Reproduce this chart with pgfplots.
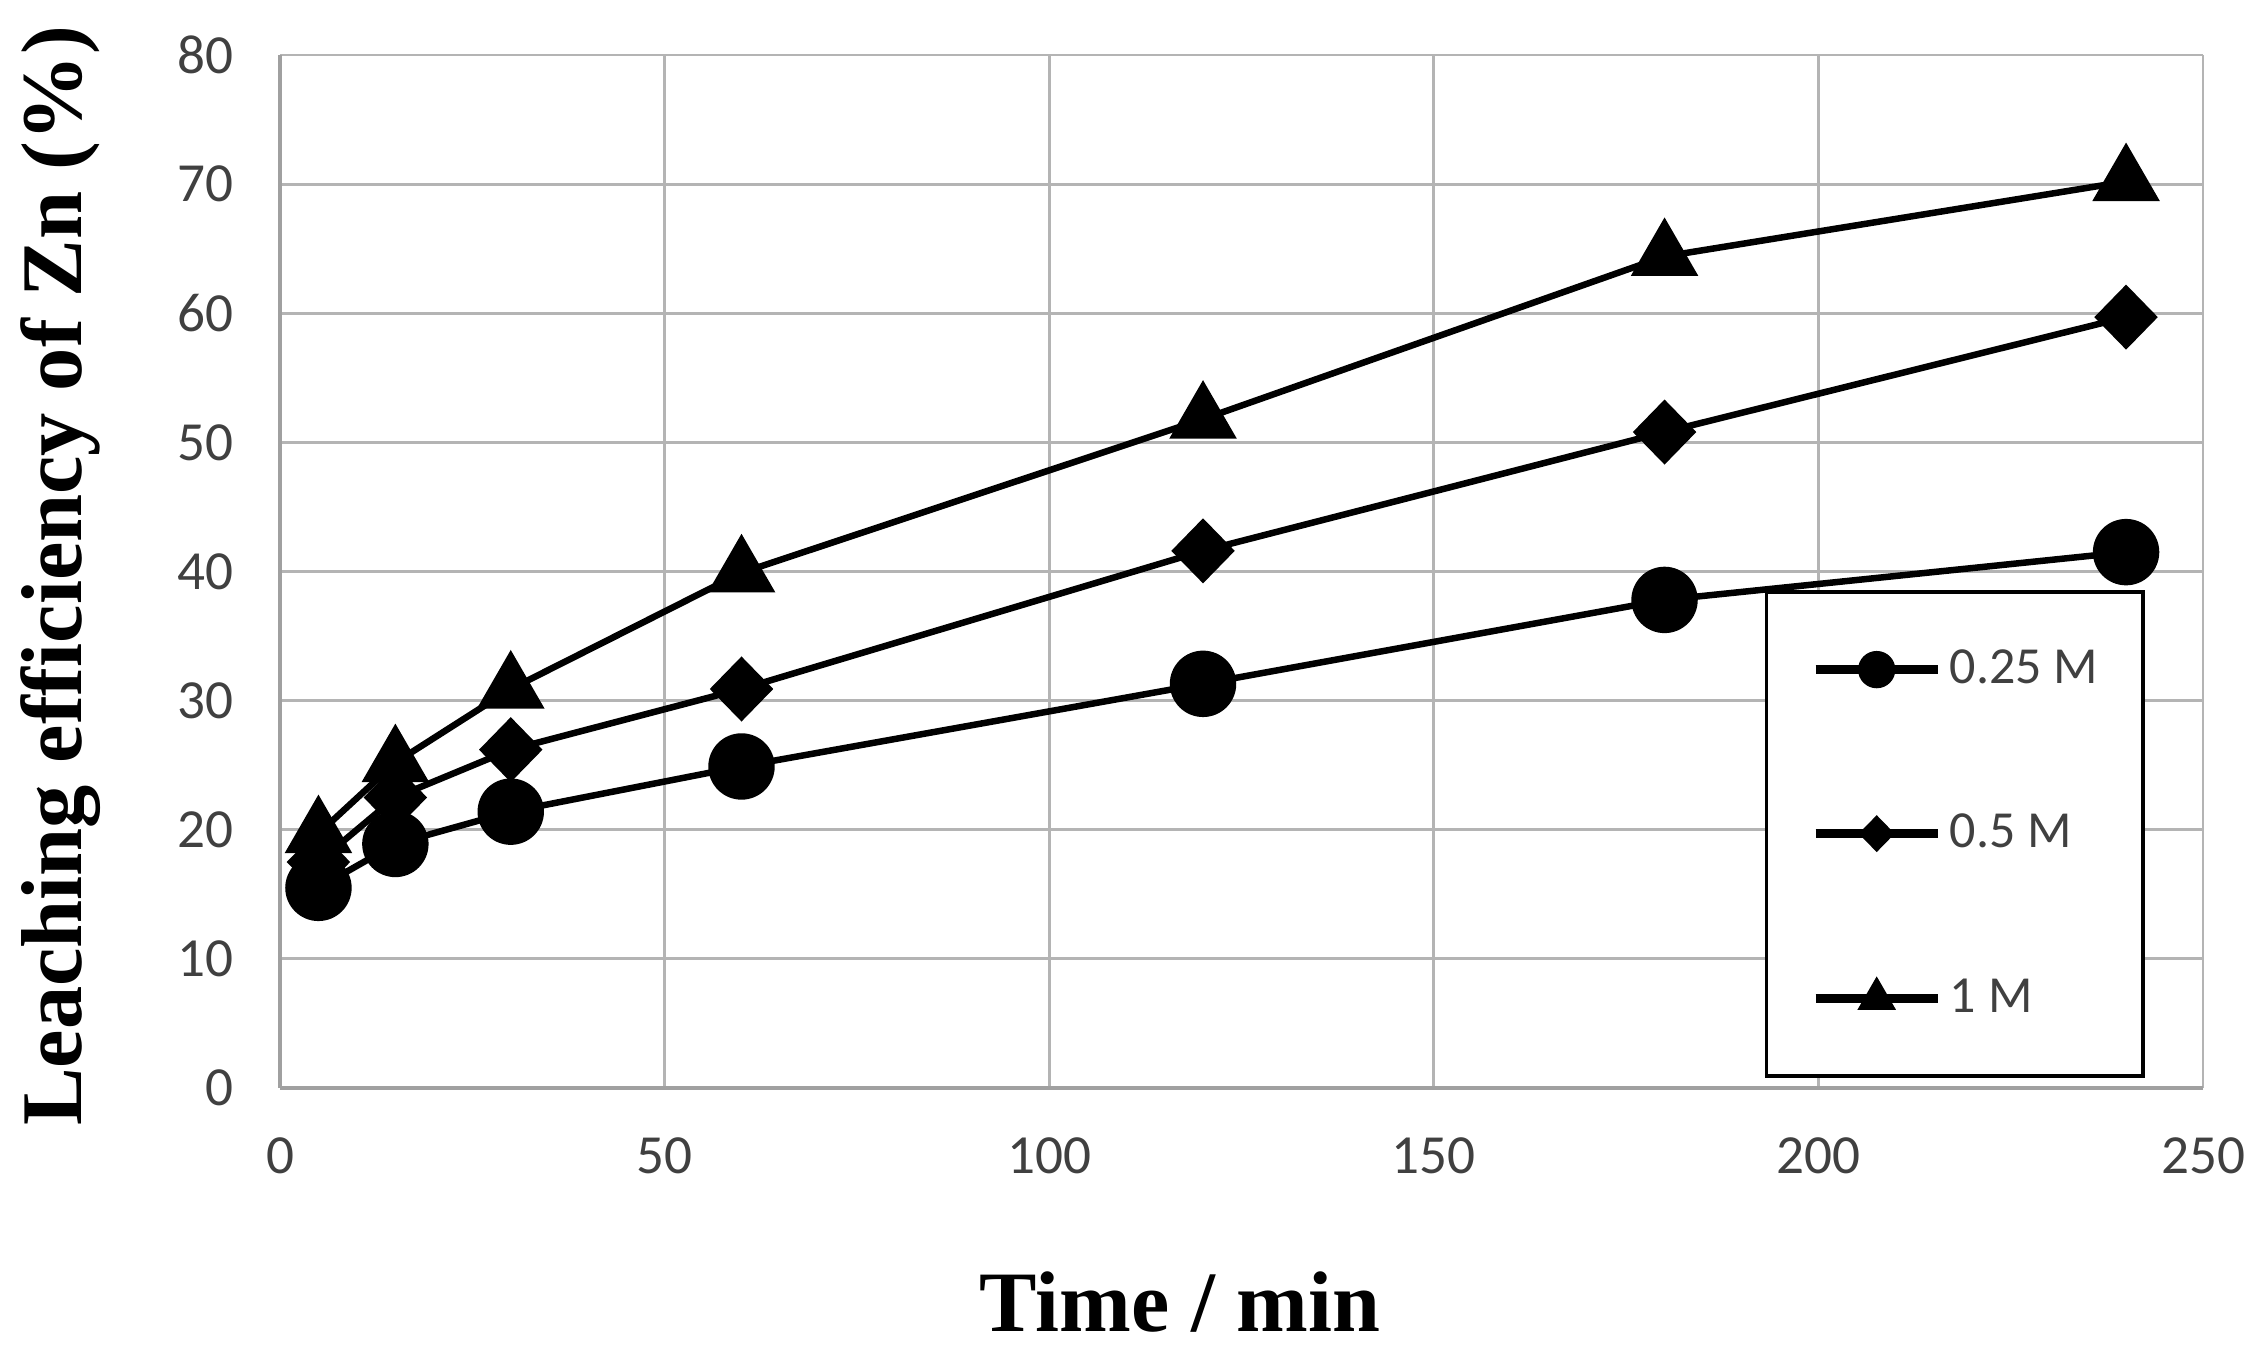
\documentclass[border=0pt]{standalone}
\usepackage{pgfplots}
\pgfplotsset{compat=1.18}
\usepackage{fontspec}
\setmainfont{Carlito}
\newfontfamily\titlefont{Liberation Serif}
\definecolor{tickgray}{HTML}{404040}
\definecolor{gridgray}{HTML}{B4B4B4}
\definecolor{axisgray}{HTML}{A0A0A0}
\begin{document}
\begin{tikzpicture}
\path[use as bounding box] (-2.80cm,-2.75cm) rectangle (19.73cm,10.88cm);
\begin{axis}[
  scale only axis,
  width=19.23cm, height=10.33cm,
  xmin=0, xmax=250, ymin=0, ymax=80,
  xtick={0,50,...,250}, ytick={0,10,...,80},
  axis lines=left,
  axis line style={-, draw=axisgray, line width=1.3pt},
  major tick length=0pt,
  grid=major,
  major grid style={draw=gridgray, line width=0.8pt},
  /pgf/number format/assume math mode=true,
  tick label style={font=\fontsize{15.7}{18}\selectfont, text=tickgray},
  yticklabel style={anchor=east, inner sep=0pt, xshift=-0.46cm},
  xticklabel style={anchor=north, inner sep=0pt, yshift=-0.49cm},
  xlabel={Time / min},
  ylabel={Leaching efficiency of Zn (\%)},
  xlabel style={font=\titlefont\bfseries\fontsize{24.5}{28}\selectfont, at={(axis description cs:0.468,0)}, anchor=base, yshift=-2.44cm},
  ylabel style={font=\titlefont\bfseries\fontsize{24.6}{28}\selectfont, at={([xshift=-1.98cm]axis description cs:0,0.4956)}, anchor=base, rotate=0},
  legend style={at={([yshift=0.02cm]axis description cs:0.772,0.480)}, anchor=north west,
    draw=black, line width=1.1pt, inner xsep=0.45cm, inner ysep=0.58cm,
    row sep=1.25cm, column sep=0.08cm,
    nodes={inner sep=0pt},
    font=\fontsize{14.8}{17}\selectfont, text=tickgray},
  legend cell align=left,
  legend image code/.code={
    \draw[mark repeat=2, mark phase=2, #1, line width=2.4pt, every mark/.append style={scale=0.55}]
      plot coordinates {(0cm,0cm) (0.61cm,0cm) (1.22cm,0cm)};
  },
]
\addplot[black, line width=1.85pt, mark=*, mark size=9.2pt, mark options={fill=black, line width=0.5pt}]
  coordinates {(5,15.5) (15,18.9) (30,21.4) (60,24.9) (120,31.3) (180,37.8) (240,41.5)};
\addlegendentry{0.25 M}
\addplot[black, line width=1.85pt, mark=diamond*, mark size=8.9pt, mark options={fill=black, line width=0.5pt, xscale=1.3}]
  coordinates {(5,17.5) (15,22.5) (30,26.2) (60,30.9) (120,41.6) (180,50.8) (240,59.7)};
\addlegendentry{0.5 M}
\addplot[black, line width=1.85pt, mark=triangle*, mark size=10.6pt, mark options={fill=black, line width=0.5pt}]
  coordinates {(5,19.7) (15,25.2) (30,30.9) (60,39.9) (120,51.8) (180,64.4) (240,70.2)};
\addlegendentry{1 M}
\end{axis}
\end{tikzpicture}
\end{document}
